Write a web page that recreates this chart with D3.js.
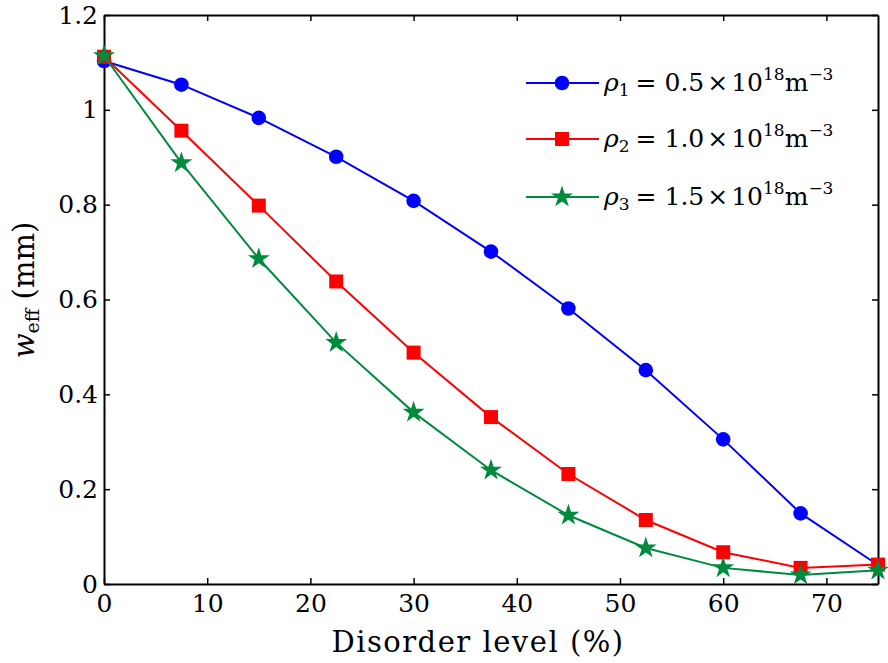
<!DOCTYPE html>
<html><head><meta charset="utf-8">
<script src="https://cdn.jsdelivr.net/npm/d3@7"></script>
<style>body{margin:0;background:#fff;} text{font-family:"DejaVu Serif",serif;fill:#000;}</style>
</head><body><svg id="c" width="888" height="663"></svg>
<script>
const disorder = [0, 7.5, 15, 22.5, 30, 37.5, 45, 52.5, 60, 67.5, 75];
const rho1 = [1.103, 1.053, 0.983, 0.901, 0.808, 0.701, 0.581, 0.451, 0.305, 0.149, 0.040];
const rho2 = [1.112, 0.956, 0.798, 0.638, 0.488, 0.352, 0.232, 0.135, 0.067, 0.034, 0.041];
const rho3 = [1.114, 0.888, 0.686, 0.509, 0.362, 0.240, 0.145, 0.076, 0.034, 0.019, 0.029];
const xTicks = [0, 10, 20, 30, 40, 50, 60, 70];
const yTicks = [0, 0.2, 0.4, 0.6, 0.8, 1, 1.2];
const seriesNames = ["1", "2", "3"];
const seriesCoef = ["0.5", "1.0", "1.5"];
const colors = ["#0000ff", "#ff0000", "#008a3e"];
const shapes = ["circle", "square", "star"];
const FONT = "DejaVu Serif";

const svg = d3.select("#c");
const L = 104, R = 878, T = 15, B = 584;
const x = d3.scaleLinear().domain([0, 75]).range([L, R]);
const y = d3.scaleLinear().domain([0, 1.2]).range([B, T]);

const fmt = d => String(d);
const gx = svg.append("g").attr("transform", `translate(0,${B})`)
  .call(d3.axisBottom(x).tickValues(xTicks).tickSizeInner(-6).tickSizeOuter(0).tickPadding(10).tickFormat(fmt));
const gxTop = svg.append("g").attr("transform", `translate(0,${T})`)
  .call(d3.axisTop(x).tickValues(xTicks).tickSizeInner(-6).tickSizeOuter(0).tickFormat(""));
const gy = svg.append("g").attr("transform", `translate(${L},0)`)
  .call(d3.axisLeft(y).tickValues(yTicks).tickSizeInner(-6).tickSizeOuter(0).tickPadding(6).tickFormat(fmt));
const gyR = svg.append("g").attr("transform", `translate(${R},0)`)
  .call(d3.axisRight(y).tickValues(yTicks).tickSizeInner(-6).tickSizeOuter(0).tickFormat(""));
[gx, gxTop, gy, gyR].forEach(g => {
  g.attr("font-family", FONT);
  g.select(".domain").attr("stroke", "#000").attr("stroke-width", 2);
  g.selectAll(".tick line").attr("stroke", "#000").attr("stroke-width", 1.5);
  g.selectAll(".tick text").attr("font-size", 25).attr("font-family", FONT);
});

const data = [rho1, rho2, rho3];
const line = d3.line().x((d, i) => x(disorder[i])).y(d => y(d));
const sym = {
  circle: d3.symbol().type(d3.symbolCircle).size(Math.PI * 7.3 * 7.3),
  square: d3.symbol().type(d3.symbolSquare).size(14 * 14),
  star: d3.symbol().type(d3.symbolStar).size(150)
};
data.forEach((vals, s) => {
  const g = svg.append("g");
  g.append("path").datum(vals).attr("d", line).attr("fill", "none")
    .attr("stroke", colors[s]).attr("stroke-width", 2);
  g.selectAll("path.m").data(vals).enter().append("path").attr("class", "m")
    .attr("d", sym[shapes[s]]())
    .attr("transform", (d, i) => `translate(${x(disorder[i])},${y(d)})`)
    .attr("fill", colors[s]);
});

const legY = [83, 139, 197];
seriesNames.forEach((n, s) => {
  const g = svg.append("g").attr("transform", `translate(0,${legY[s]})`);
  g.append("line").attr("x1", 526).attr("x2", 599).attr("y1", 0).attr("y2", 0)
    .attr("stroke", colors[s]).attr("stroke-width", 2);
  g.append("path").attr("d", sym[shapes[s]]()).attr("transform", "translate(562,0)").attr("fill", colors[s]);
  const t = g.append("text").attr("x", 604).attr("y", 8).attr("font-size", 25).attr("font-family", FONT);
  t.append("tspan").attr("font-style", "italic").text("ρ");
  t.append("tspan").attr("font-size", 17).attr("dy", 5).text(n);
  t.append("tspan").attr("dy", -5).attr("dx", 6).text("=");
  t.append("tspan").attr("dx", 8).text(seriesCoef[s]);
  t.append("tspan").attr("dx", 3).text("×");
  t.append("tspan").attr("dx", 3).text("10");
  t.append("tspan").attr("font-size", 17).attr("dy", -11).text("18");
  t.append("tspan").attr("dy", 11).text("m");
  t.append("tspan").attr("font-size", 17).attr("dy", -11).text("−3");
});

svg.append("text").attr("x", 478).attr("y", 652).attr("text-anchor", "middle")
  .attr("font-size", 29).attr("letter-spacing", 1.5).attr("font-family", FONT).text("Disorder level (%)");
const yt = svg.append("text").attr("transform", "translate(34,290) rotate(-90)").attr("text-anchor", "middle").attr("font-size", 29).attr("font-family", FONT);
yt.append("tspan").attr("font-style", "italic").text("w");
yt.append("tspan").attr("font-size", 19).attr("dy", 5).text("eff");
yt.append("tspan").attr("dy", -5).text(" (mm)");
</script></body></html>
